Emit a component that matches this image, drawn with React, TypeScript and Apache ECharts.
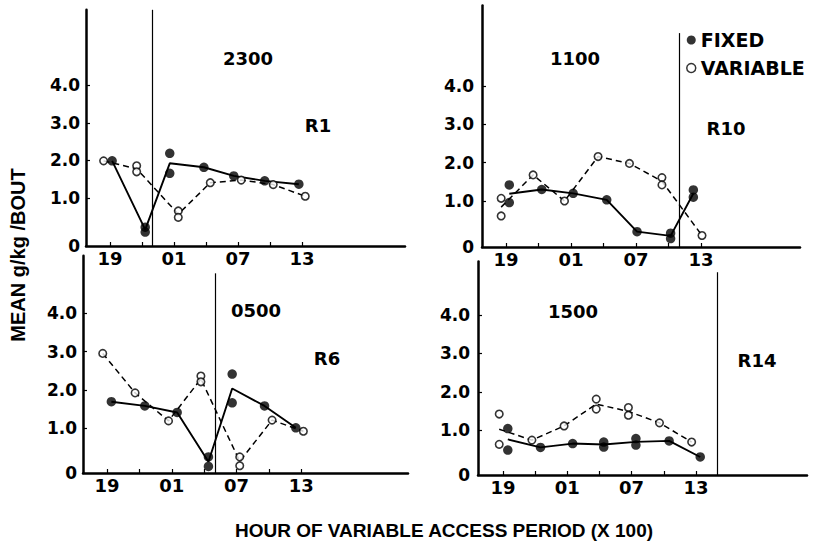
import React, { useEffect, useRef } from 'react';
import * as echarts from 'echarts';

// x values are hours after 19:00 (0 = 19, 6 = 01, 12 = 07, 18 = 13)
const hourTicks = [0, 3, 6, 9, 12, 15, 18];
const hourLabelTicks = [0, 6, 12, 18];
const valueTicks = [1, 2, 3, 4];

const roomLabels = ['R1', 'R10', 'R6', 'R14'];
const accessLabels = ['2300', '1100', '0500', '1500'];
const accessHour = [4, 16, 10, 20];

const fixedR1 = [[0.2, 1.99], [3.3, 0.23], [3.3, 0.1], [5.6, 2.19], [5.6, 1.66], [8.8, 1.82], [11.6, 1.59], [14.5, 1.46], [17.7, 1.37]];
const variableR1 = [[-0.6, 1.99], [2.5, 1.86], [2.5, 1.7], [6.4, 0.66], [6.4, 0.49], [9.4, 1.41], [12.3, 1.48], [15.3, 1.36], [18.3, 1.05]];

const fixedR10 = [[0.3, 1.42], [0.3, 0.96], [3.3, 1.3], [6.2, 1.2], [9.3, 1.03], [12.1, 0.2], [15.2, 0.16], [15.2, 0.02], [17.3, 1.29], [17.3, 1.1]];
const variableR10 = [[-0.45, 1.07], [-0.45, 0.61], [2.5, 1.68], [5.4, 1.0], [8.5, 2.16], [11.4, 1.98], [14.4, 1.61], [14.4, 1.42], [18.1, 0.1]];

const fixedR6 = [[0.4, 1.69], [3.5, 1.58], [6.5, 1.41], [9.4, 0.25], [9.4, 0.0], [11.6, 2.41], [11.6, 1.66], [14.6, 1.58], [17.5, 1.01]];
const variableR6 = [[-0.4, 2.95], [2.6, 1.92], [5.7, 1.19], [8.7, 2.36], [8.7, 2.21], [12.3, 0.25], [12.3, 0.02], [15.3, 1.21], [18.2, 0.92]];

const fixedR14 = [[0.45, 1.04], [0.45, 0.48], [3.5, 0.55], [6.5, 0.65], [9.4, 0.69], [9.4, 0.56], [12.4, 0.78], [12.4, 0.61], [15.5, 0.72], [18.4, 0.3]];
const variableR14 = [[-0.35, 1.42], [-0.35, 0.63], [2.7, 0.74], [5.7, 1.11], [8.7, 1.81], [8.7, 1.55], [11.7, 1.59], [11.7, 1.39], [14.6, 1.19], [17.6, 0.69]];

const fixedSets = [fixedR1, fixedR10, fixedR6, fixedR14];
const variableSets = [variableR1, variableR10, variableR6, variableR14];

// layout only (pixel positions / axis extents)
const layouts = [
  { left: 86, top: 9.8, width: 319, height: 236.2, xMin: -2.25, xMax: 27.65, yMin: -0.27, yMax: 6.0, lineTop: 6.0, labelMargin: 6, accessPos: [248, 58], roomPos: [318, 125] },
  { left: 482, top: 5.5, width: 318, height: 241.5, xMin: -2.22, xMax: 27.15, yMin: -0.2, yMax: 6.1, lineTop: 5.38, labelMargin: 8, accessPos: [575, 58], roomPos: [726, 128] },
  { left: 83, top: 255.7, width: 325, height: 217.3, xMin: -2.23, xMax: 27.9, yMin: -0.17, yMax: 5.5, lineTop: 5.04, labelMargin: 6, accessPos: [256, 310], roomPos: [327, 358] },
  { left: 478, top: 261.5, width: 329, height: 213.5, xMin: -2.33, xMax: 28.36, yMin: -0.17, yMax: 5.4, lineTop: 5.12, labelMargin: 8, accessPos: [573, 311], roomPos: [757, 360] },
];

const FONT = '"DejaVu Sans", sans-serif';
const TITLE_FONT = '"Liberation Sans", Arial, sans-serif';

function meanLine(points: number[][]) {
  const groups = new Map<number, number[]>();
  points.forEach(([t, v]) => {
    if (!groups.has(t)) groups.set(t, []);
    groups.get(t)!.push(v);
  });
  return Array.from(groups.entries())
    .sort((a, b) => a[0] - b[0])
    .map(([t, vs]) => [t, vs.reduce((s, x) => s + x, 0) / vs.length]);
}

function hourLabel(v: number) {
  const h = (19 + Math.round(v)) % 24;
  return String(h).padStart(2, '0');
}

export default function App() {
  const ref = useRef<HTMLDivElement>(null);

  useEffect(() => {
    if (!ref.current) return;
    const chart = echarts.init(ref.current, undefined, { renderer: 'svg' });

    const grid: any[] = [];
    const xAxis: any[] = [];
    const yAxis: any[] = [];
    const series: any[] = [];
    const graphic: any[] = [];

    layouts.forEach((L, i) => {
      grid.push({ left: L.left, top: L.top, width: L.width, height: L.height, containLabel: false });
      xAxis.push({
        type: 'value',
        gridIndex: i,
        min: L.xMin,
        max: L.xMax,
        splitLine: { show: false },
        axisLine: { show: true, onZero: false, lineStyle: { color: '#000', width: 2.5 } },
        axisTick: { show: true, inside: true, length: 4, customValues: hourTicks, lineStyle: { color: '#000', width: 1.2 } },
        axisLabel: {
          show: true,
          customValues: hourLabelTicks,
          formatter: (v: number) => hourLabel(v),
          margin: 3,
          color: '#000',
          fontFamily: FONT,
          fontWeight: 'bold',
          fontSize: 18,
        },
      });
      yAxis.push({
        type: 'value',
        gridIndex: i,
        min: L.yMin,
        max: L.yMax,
        splitLine: { show: false },
        axisLine: { show: true, onZero: false, lineStyle: { color: '#000', width: 2.5 } },
        axisTick: { show: true, inside: true, length: 4, customValues: valueTicks, lineStyle: { color: '#000', width: 1.2 } },
        axisLabel: {
          show: true,
          customValues: [L.yMin, ...valueTicks],
          formatter: (v: number) => (v < 0.5 ? '0' : v.toFixed(1)),
          margin: L.labelMargin,
          color: '#000',
          fontFamily: FONT,
          fontWeight: 'bold',
          fontSize: 17,
        },
      });

      series.push({
        type: 'line',
        xAxisIndex: i,
        yAxisIndex: i,
        data: meanLine(fixedSets[i]),
        showSymbol: false,
        symbol: 'none',
        lineStyle: { color: '#000', width: 1.9, type: 'solid' },
        z: 2,
        silent: true,
        markLine: {
          silent: true,
          symbol: 'none',
          label: { show: false },
          lineStyle: { color: '#000', width: 1.2, type: 'solid' },
          data: [[{ coord: [accessHour[i], L.yMin] }, { coord: [accessHour[i], L.lineTop] }]],
        },
      });
      series.push({
        type: 'line',
        xAxisIndex: i,
        yAxisIndex: i,
        data: meanLine(variableSets[i]),
        showSymbol: false,
        symbol: 'none',
        lineStyle: { color: '#000', width: 1.5, type: [6, 4] },
        z: 2,
        silent: true,
      });
      series.push({
        type: 'scatter',
        name: 'FIXED',
        xAxisIndex: i,
        yAxisIndex: i,
        data: fixedSets[i],
        symbol: 'circle',
        symbolSize: 9.5,
        itemStyle: { color: '#000' },
        z: 4,
      });
      series.push({
        type: 'scatter',
        name: 'VARIABLE',
        xAxisIndex: i,
        yAxisIndex: i,
        data: variableSets[i],
        symbol: 'circle',
        symbolSize: 7.5,
        itemStyle: { color: '#fff', borderColor: '#000', borderWidth: 1.6 },
        z: 3,
      });

      graphic.push({
        type: 'text',
        x: L.accessPos[0],
        y: L.accessPos[1],
        style: { text: accessLabels[i], fill: '#000', font: `bold 18px ${FONT}`, textAlign: 'center', textVerticalAlign: 'middle' },
      });
      graphic.push({
        type: 'text',
        x: L.roomPos[0],
        y: L.roomPos[1],
        style: { text: roomLabels[i], fill: '#000', font: `bold 18px ${FONT}`, textAlign: 'center', textVerticalAlign: 'middle' },
      });
    });

    graphic.push({
      type: 'text',
      x: 18,
      y: 255,
      rotation: Math.PI / 2,
      style: { text: 'MEAN g/kg /BOUT', fill: '#000', font: `bold 20px ${TITLE_FONT}`, textAlign: 'center', textVerticalAlign: 'middle' },
    });
    graphic.push({
      type: 'text',
      x: 444,
      y: 530,
      style: { text: 'HOUR OF VARIABLE ACCESS PERIOD (X 100)', fill: '#000', font: `bold 19px ${TITLE_FONT}`, textAlign: 'center', textVerticalAlign: 'middle' },
    });

    chart.setOption({
      animation: false,
      backgroundColor: '#fff',
      grid,
      xAxis,
      yAxis,
      series,
      graphic,
      legend: {
        show: true,
        orient: 'vertical',
        left: 686,
        top: 30.5,
        padding: 0,
        itemWidth: 9,
        itemHeight: 9,
        itemGap: 9,
        selectedMode: false,
        textStyle: { color: '#000', fontFamily: FONT, fontWeight: 'bold', fontSize: 19 },
        data: [
          { name: 'FIXED', icon: 'circle', itemStyle: { color: '#000', borderWidth: 0 } },
          { name: 'VARIABLE', icon: 'circle', itemStyle: { color: '#fff', borderColor: '#000', borderWidth: 1.5 } },
        ],
      },
    });

    return () => chart.dispose();
  }, []);

  return (
    <div
      ref={ref}
      style={{ position: 'fixed', left: 0, top: 0, width: 819, height: 546, background: '#fff' }}
    />
  );
}
